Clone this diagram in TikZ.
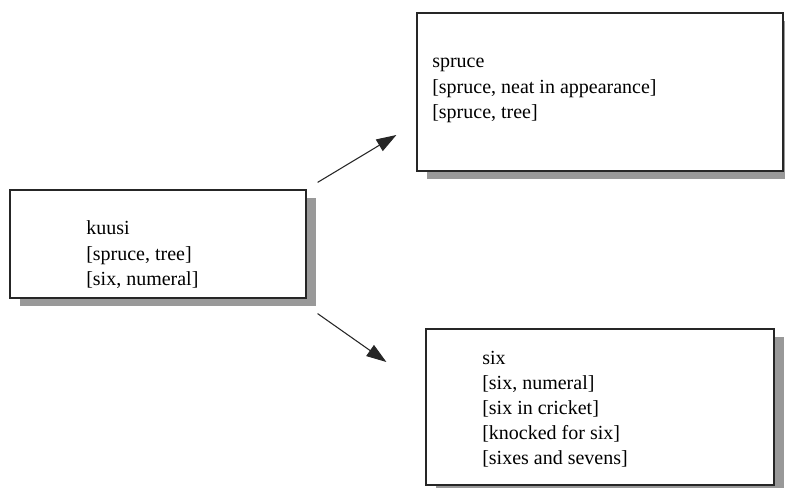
\documentclass[tikz,border=0pt]{standalone}
\usepackage{fontspec}
\setmainfont{Liberation Serif}
\usetikzlibrary{arrows.meta,shadows,fit,calc}
\begin{document}
\begin{tikzpicture}[x=0.75pt,y=-0.75pt,
  wordbox/.style={draw=black!85, line width=0.9pt, fill=white, inner sep=0pt,
    drop shadow={shadow xshift=7.5pt, shadow yshift=-6pt, fill=black!40, opacity=1}},
  senses/.style={anchor=base west, inner sep=0pt, font=\fontsize{15}{18.8}\selectfont},
  link/.style={draw=black!85, line width=0.8pt, -{Triangle[length=15pt,width=10pt]}}]
\useasboundingbox (0,0) rectangle (785,488);
\clip (0,0) rectangle (785,488);

% the three word boxes
\node[wordbox, fit={(10,190) (306,298)}] (kuusi) {};
\node[wordbox, fit={(417,13) (783,171)}] (spruce) {};
\node[wordbox, fit={(426,329) (774,485)}] (six) {};

% their sense lists
\node[senses] (kuusi-senses) at (86,235)
  {\begin{tabular}[t]{@{}l@{}}kuusi\\{}[spruce, tree]\\{}[six, numeral]\end{tabular}};
\node[senses] (spruce-senses) at (432,68)
  {\begin{tabular}[t]{@{}l@{}}spruce\\{}[spruce, neat in appearance]\\{}[spruce, tree]\end{tabular}};
\node[senses] (six-senses) at (482,364)
  {\begin{tabular}[t]{@{}l@{}}six\\{}[six, numeral]\\{}[six in cricket]\\{}[knocked for six]\\{}[sixes and sevens]\end{tabular}};

% translations
\draw[link] ($(kuusi.north east)+(11,-7)$) -- ($(spruce.west)+(-20,43)$);
\draw[link] ($(kuusi.south east)+(11,15)$) -- ($(six.west)+(-39,-45)$);
\end{tikzpicture}
\end{document}
